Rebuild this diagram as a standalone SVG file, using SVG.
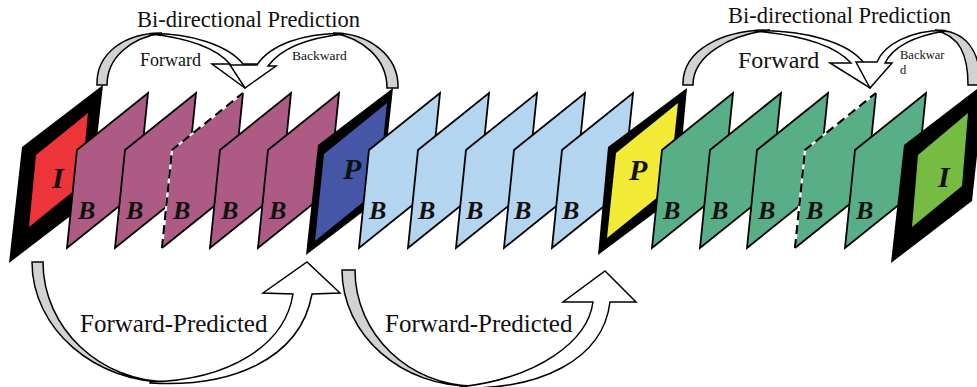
<svg xmlns="http://www.w3.org/2000/svg" width="977" height="387" viewBox="0 0 977 387">
<style>
.fr{stroke:#000;stroke-width:1.8;stroke-linejoin:miter}
.pu{fill:#AD5B85}
.lb{fill:#B3D5EF}
.gr{fill:#58AE86}
.lbl{font-family:"Liberation Serif","Times New Roman",serif;font-weight:bold;font-style:italic;fill:#111}
.t{font-family:"Liberation Serif","Times New Roman",serif;fill:#111}
.ar{stroke:#000;stroke-width:1.5;stroke-linejoin:miter}
.gy{fill:#D2D2D2}
.wh{fill:#fff}
.dw{fill:none;stroke:#fff;stroke-width:2.2}
.dash{fill:none;stroke:#000;stroke-width:2.2;stroke-dasharray:9 5}
.sol{fill:none;stroke:#000;stroke-width:1.8}
</style>
<defs>
<polygon id="bf" points="0,150 71,93 61,191 -10,248"/>
</defs>
<rect width="977" height="387" fill="#fff"/>

<g id="frames">
<g id="i1">
<polygon points="22,147 103,85 90,201 9,263" fill="#000"/>
<polygon points="36,155 88,113 81,185 29,227" fill="#ED3438"/>
<text class="lbl" x="52" y="188" font-size="30">I</text>
</g>
<g id="b1" transform="translate(77,0)"><use href="#bf" class="fr pu"/><text class="lbl" x="1" y="219" font-size="26">B</text></g>
<g id="b2" transform="translate(125,0)"><use href="#bf" class="fr pu"/><text class="lbl" x="1" y="219" font-size="26">B</text></g>
<g id="b3" transform="translate(172,0)"><use href="#bf" class="pu"/>
<polyline class="sol" points="71,93 61,191 -10,248"/>
<polyline class="dw" points="-10,248 0,150 71,93"/>
<polyline class="dash" points="-10,248 0,150 71,93"/>
<text class="lbl" x="1" y="219" font-size="26">B</text></g>
<g id="b4" transform="translate(220,0)"><use href="#bf" class="fr pu"/><text class="lbl" x="1" y="219" font-size="26">B</text></g>
<g id="b5" transform="translate(268,0)"><use href="#bf" class="fr pu"/><text class="lbl" x="1" y="219" font-size="26">B</text></g>
<g id="p1">
<polygon points="318,145 393,88 381,198 306,255" fill="#000"/>
<polygon points="324,154 387,103 378,190 315,241" fill="#4656A6"/>
<text class="lbl" x="343" y="179" font-size="30">P</text>
</g>
<g id="b6" transform="translate(369,0)"><use href="#bf" class="fr lb"/><text class="lbl" x="0" y="219" font-size="26">B</text></g>
<g id="b7" transform="translate(418,0)"><use href="#bf" class="fr lb"/><text class="lbl" x="0" y="219" font-size="26">B</text></g>
<g id="b8" transform="translate(466,0)"><use href="#bf" class="fr lb"/><text class="lbl" x="0" y="219" font-size="26">B</text></g>
<g id="b9" transform="translate(514,0)"><use href="#bf" class="fr lb"/><text class="lbl" x="0" y="219" font-size="26">B</text></g>
<g id="b10" transform="translate(562,0)"><use href="#bf" class="fr lb"/><text class="lbl" x="0" y="219" font-size="26">B</text></g>
<g id="p2">
<polygon points="608,147 687,88 677,196 598,255" fill="#000"/>
<polygon points="616,153 678,103 669,188 607,238" fill="#F2EA34"/>
<text class="lbl" x="629" y="180" font-size="30">P</text>
</g>
<g id="b11" transform="translate(662,0)"><use href="#bf" class="fr gr"/><text class="lbl" x="1" y="219" font-size="26">B</text></g>
<g id="b12" transform="translate(710,0)"><use href="#bf" class="fr gr"/><text class="lbl" x="1" y="219" font-size="26">B</text></g>
<g id="b13" transform="translate(757,0)"><use href="#bf" class="fr gr"/><text class="lbl" x="1" y="219" font-size="26">B</text></g>
<g id="b14" transform="translate(805,0)"><use href="#bf" class="gr"/>
<polyline class="sol" points="71,93 61,191 -10,248"/>
<polyline class="dw" points="-10,248 0,150 71,93"/>
<polyline class="dash" points="-10,248 0,150 71,93"/>
<text class="lbl" x="1" y="219" font-size="26">B</text></g>
<g id="b15" transform="translate(855,0)"><use href="#bf" class="fr gr"/><text class="lbl" x="1" y="219" font-size="26">B</text></g>
<g id="i2">
<polygon points="904,145 985,83 972,201 891,263" fill="#000"/>
<polygon points="918,155 968,113 962,186 912,227" fill="#76BC43"/>
<text class="lbl" x="938" y="187" font-size="30">I</text>
</g>
</g>

<g id="connectors">
<g id="bi-left">
<path class="ar gy" d="M97,85 L107,85 C107,58 130,38 162,33 C125,33 96,53 97,85 Z"/>
<path class="ar wh" d="M150,33.5 C190,33 228,45 243,64 L262,64 L245,88 L212,64 L230,64 C215,47 188,38 150,34 Z"/>
<path class="ar gy" d="M398,88 L387,88 C387,58 362,38 333,33 C368,33 399,55 398,88 Z"/>
<path class="ar wh" d="M343,33.5 C303,33 270,45 257,65 L230,65 L245,88 L276,66 L268,66 C282,47 308,38 343,34 Z"/>
</g>
<g id="bi-right">
<path class="ar gy" d="M683,85 L693,85 C693,55 730,35 770,30 C722,30 682,50 683,85 Z"/>
<path class="ar wh" d="M755,30.5 C805,30 848,42 864,63 L888,63 L870,88 L830,63 L851,63 C835,45 800,35 755,31 Z"/>
<path class="ar gy" d="M980,85 L968,85 C968,55 960,36 935,30 C965,30 981,50 980,85 Z"/>
<path class="ar wh" d="M945,30.5 C910,30 884,45 877,62 L856,62 L870,88 L892,63 L885,63 C893,47 915,36 945,31 Z"/>
</g>
<g id="fp1">
<path class="ar gy" d="M32,262 L43,262 C43,328 100,382 170,382 C94,383 32,328 32,262 Z"/>
<path class="ar wh" d="M150,383 C230,388 300,360 312,294 L340,293 L307,262 L263,293 L293,294 C285,345 230,380 150,382 Z"/>
</g>
<g id="fp2">
<path class="ar gy" d="M342,270 L355,270 C355,334 409,386 475,386 C402,388 342,335 342,270 Z"/>
<path class="ar wh" d="M460,388 C540,390 603,360 610,302 L636,302 L605,271 L563,302 L593,302 C588,340 540,378 460,387 Z"/>
</g>
</g>

<g id="labels">
<text class="t" x="137" y="27" font-size="22.5">Bi-directional Prediction</text>
<text class="t" x="140" y="66" font-size="18">Forward</text>
<text class="t" x="292" y="60" font-size="13.5">Backward</text>
<text class="t" x="728" y="23" font-size="22.5">Bi-directional Prediction</text>
<text class="t" x="738" y="68" font-size="24">Forward</text>
<text class="t" x="900" y="59" font-size="12.5">Backwar</text>
<text class="t" x="900" y="74" font-size="12.5">d</text>
<text class="t" x="80" y="332" font-size="25">Forward-Predicted</text>
<text class="t" x="385" y="332" font-size="25">Forward-Predicted</text>
</g>
</svg>
